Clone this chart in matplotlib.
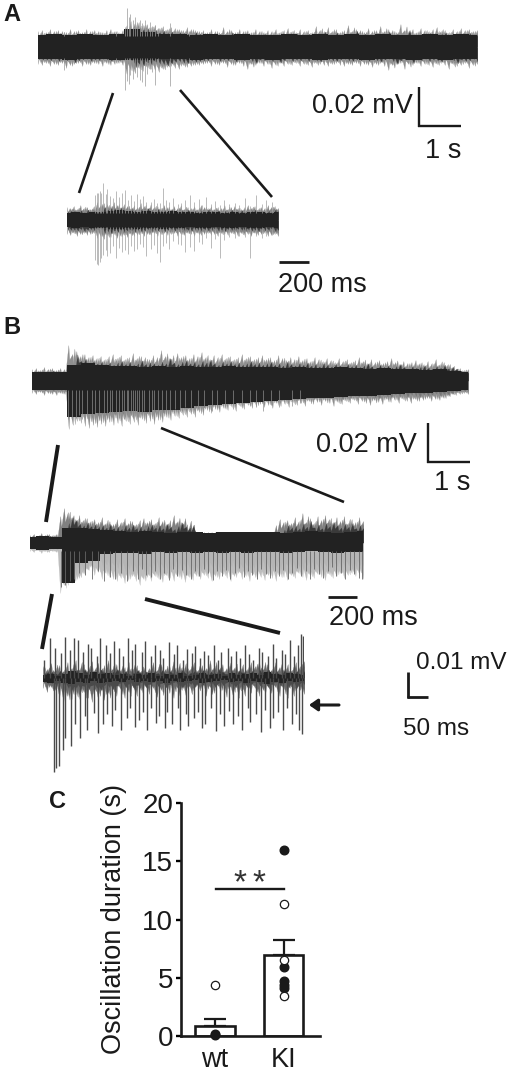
import matplotlib
matplotlib.use("Agg")
import matplotlib.pyplot as plt
from matplotlib.lines import Line2D
from matplotlib.patches import FancyArrowPatch
import numpy as np

W, H = 520, 1072
plt.rcParams["font.family"] = ["Liberation Sans", "DejaVu Sans"]

# trace amplitudes: 1 unit = 0.5 uV. fringe/core are outlines, spikes are single deflections
# --- A top
A1_dur = 10.45
A1_fringe_top = [16,17,15,18,16,17,16,15,18,16,17,15,18,16,17,16,15,17,18,16,15,17,
    22,26,24,25,22,23,20,22,19,21,18,20,19,18,17,20,18,17,
    16,17,15,18,16,15,20,16,17,15,18,16,17,15,18,16,15,17,16,18,15,17,19,16,15,18,16,17,15,21,
    17,16,20,16,18,15,17,22,16,18,17,15,19,16,17,21,16,18,17,15,23,17,16,18,15,19,17,16,18,20,
    16,17,15,18,16,19,17,18,16,17]
A1_fringe_bot = [17,18,16,19,17,18,16,21,18,17,16,19,17,18,16,17,19,16,18,17,16,18,
    27,23,25,21,24,20,22,23,25,22,20,19,21,22,18,20,19,18,
    18,17,16,19,17,18,16,20,17,18,16,19,22,17,18,16,19,17,21,18,16,19,17,18,16,19,17,18,20,16,
    17,18,19,17,16,18,19,17,18,16,19,17,18,20,17,16,19,23,18,17,16,22,17,18,16,19,17,18,20,17,
    16,18,22,17,19,18,16,21,18,17]
A1_core_top = [12,13,12,13,12,13,18,15,13,13,12,13,12,13,12,12,13,12,13,12,13,12,13,12,12,13,12,13,12]
A1_core_bot = [12,12,13,12,12,13,13,13,12,12,13,12,12,13,12,13,12,12,13,12,12,13,12,12,13,12,13,12,12]
A1_spike_t = [2.08,2.12,2.16,2.2,2.25,2.3,2.36,2.42,2.48,2.54,2.6,2.66,2.72,2.78,2.85,3.14,3.6,1.85,0.62]
A1_spike_up = [20,39,30,33,27,30,25,27,24,27,22,25,21,22,19,24,16,15,15]
A1_spike_down = [43,34,37,28,32,26,30,33,35,39,27,22,25,38,20,39,15,15,23]

# --- A zoom
A2_dur = 1.41
A2_fringe_top = [13,12,14,11,15,12,13,11,14,18,15,17,16,14,18,15,13,16,14,12,15,13,17,14,12,16,13,14,12,15,13,11,14,12,
    15,11,13,12,14,11,15,13,12,14,11,13,12,15,11,13,14,12,11,13,15,12,14,11,13,12,15,13,14,12]
A2_fringe_bot = [14,15,13,16,14,13,15,14,13,18,16,19,15,17,14,18,16,15,17,14,16,15,13,16,14,15,13,16,14,13,15,14,13,16,
    14,15,13,14,16,13,15,14,13,15,14,16,13,14,15,13,14,16,13,15,14,16,13,15,14,13,16,15,14,16]
A2_core_top = [7,8,7,8,8,9,10,9,8,9,8,8,9,8,8,7,8,8,7,8,7,8,8,7,8]
A2_core_bot = [7,8,7,8,8,9,9,8,9,8,8,9,8,8,7,8,8,7,8,8,7,8,8,7,8]
A2_spike_t = [.19,.2,.21,.22,.23,.24,.26,.27,.29,.31,.33,.35,.37,.39,.41,.43,.45,.47,.49,.51,.53,.56,.58,.6,.62,.64,.66,.68,
    .71,.74,.76,.79,.82,.85,.88,.9,.93,.96,.99,1.02,1.05,1.08,1.12,1.15,1.19,1.22,1.26,1.3,1.33,1.37]
A2_spike_up = [25,27,27,29,27,37,26,31,24,22,29,23,27,30,20,25,19,26,21,24,18,18,21,17,17,32,20,18,22,16,17,20,25,18,21,
    15,23,16,19,15,20,16,17,15,22,14,25,16,20,18]
A2_spike_down = [40,44,45,42,38,35,30,36,33,26,38,28,32,30,34,26,31,29,24,27,36,29,25,33,42,26,23,29,21,24,25,32,27,31,
    22,24,18,28,19,38,20,17,18,16,17,38,16,18,16,15]

# --- B top
B1_dur = 10.4
B1_fringe_top = [12,13,11,14,12,13,11,13,12,36,27,30,25,27,24,26,23,25,22,25,27,23,26,22,24,28,23,25,24,22,26,24,31,25,
    23,26,28,24,26,23,27,25,29,24,22,26,24,27,23,25,22,24,27,23,25,22,24,26,22,24,21,26,23,21,24,22,25,21,23,
    20,24,22,20,23,21,19,23,20,22,19,21,24,20,18,22,19,21,18,20,23,19,17,20,18,19,21,18,17,20,18,22,17,19,17,14,12,13,11,12]
B1_fringe_bot = [12,13,11,14,12,13,14,12,13,48,44,40,42,45,47,44,46,43,45,41,44,42,45,40,43,41,44,38,42,40,43,39,41,
    36,39,35,37,34,36,33,36,31,34,29,32,28,31,27,29,26,30,25,28,24,27,25,23,26,24,27,22,25,23,26,21,24,22,25,
    20,23,21,24,20,22,25,21,23,20,22,19,23,20,22,24,19,21,23,18,21,19,22,18,20,22,18,20,19,17,20,18,19,17,15,13,14,13,12,13]
B1_core_top = [9,9,9,16,18,16,15,15,14,15,14,15,14,14,15,14,14,14,13,14,13,13,14,13,12,13,12,12,11,12,10,9]
B1_core_bot = [9,9,9,36,33,32,31,30,31,29,29,27,25,24,23,22,21,20,19,18,17,17,16,15,15,14,13,12,12,11,10,9]
B1_spike_t = [.86,.95,1.04,1.12,1.2,1.3,1.42,1.5,1.6,1.72,1.8,1.86,1.92,2,2.08,2.14,2.2,2.26,2.3,2.36,2.4,2.45,2.5,2.56,
    2.62,2.68,2.8,2.86,2.92,3,3.1,3.2,3.3,3.4,3.52,3.65,3.8,3.95,4.1,4.3,4.42,4.6,4.8,5,5.2,5.35,5.5,5.7,5.9,6.2,6.4]
B1_spike_down = [38,36,37,34,38,35,36,33,38,35,37,34,36,33,37,35,38,33,36,34,37,35,33,36,34,30,32,35,30,33,30,
    31,32,28,30,26,31,28,26,30,27,26,28,25,24,26,30,24,26,25,22]

# --- B zoom
B2_dur = 2.26
B2_fringe_top = [8,9,7,10,8,9,8,9,27,35,31,26,24,28,23,25,22,24,21,26,20,22,19,24,21,25,20,22,19,23,25,21,24,20,26,22,19,
    23,28,22,21,25,11,11,11,11,11,11,11,11,11,11,11,11,11,11,11,11,11,11,11,11,11,11,11,18,24,21,23,20,26,22,30,21,25,20,27,
    23,28,24,21,26,22,27,20,24,21,26,22]
B2_fringe_bot = [8,9,7,10,8,9,8,9,50,42,42,40,38,35,30,26,24,32,29,36,30,34,36,38,35,40,37,33,38,42,36,34,38,33,36,39,32,
    35,38,33,36,39,34,37,33,36,32,35,38,33,36,31,35,38,33,30,36,33,38,31,36,34,37,32,35,38,31,34,37,32,35,30,34,37,32,35,31,
    34,37,31,35,33,30,35,32,30,33,31,36]
B2_core_top = [6,7,6,15,15,14,13,12,11,12,11,10,11,11,10,11,11,11,11,11,10,11,12,11,10,11,12]
B2_core_bot = [6,7,6,40,20,18,11,10,10,11,9,10,9,10,9,10,9,10,9,9,10,9,8,9,10,9,9]
B2_spike_t = [.21,.24,.27,.3,.33,.37,.42,.46,.5,.54,.58,.62,.66,.7,.73,.76,.79,.82,.85,.88,.91,.94,.97,1,1.03,1.06,1.09,1.12,
    1.15,1.18,1.21,1.24,1.27,1.3,1.33,1.36,1.39,1.42,1.45,1.48,1.51,1.54,1.57,1.6,1.63,1.66,1.69,1.72,1.75,1.78,1.81,1.84,
    1.87,1.9,1.93,1.96,1.99,2.02,2.05,2.08,2.11,2.14,2.17,2.2,2.23,2.25]
B2_spike_down = [44,42,38,36,30,32,36,28,38,34,36,30,38,28,36,26,32,34,28,36,30,37,26,33,27,32,36,28,33,26,30,37,28,33,27,
    36,30,25,34,28,32,36,26,31,35,28,33,27,36,30,25,33,28,36,26,31,35,28,24,33,30,36,27,31,35,36]

# --- B second zoom
B3_dur = 0.65
B3_fringe_top = [12,9,15,8,13,7,16,10,18,9,14,8,17,11,7,13,18,9,14,8,11,16,9,13,7,12,10,16,8,14,9,12,17,8,11,15,9,16,8,13,
    10,18,12,8,14,10,16,11,8,14,9,16,12,18,9,14,8,16,11,9,14,8,16,12,17]
B3_fringe_bot = [10,14,9,12,20,24,18,21,16,22,14,20,24,13,18,22,15,9,18,11,20,14,8,18,12,8,16,10,19,12,8,15,20,10,12,18,9,14,
    8,12,18,9,15,8,12,19,9,14,20,11,8,15,10,18,12,8,15,9,18,11,20,9,14,12,16]
B3_core_top = [3,4,2,4,7,5,3,6,4,5,3,4,2,4,3,5,2,4,3,5,2,3,5,3,4,2,5,3,4,5,3,6,4,3,5,4,3]
B3_core_bot = [4,5,3,5,6,4,5,3,5,4,3,4,2,4,3,4,3,5,3,4,3,2,5,4,3,2,4,3,5,3,4,6,4,5,3,4,3]
B3_up_t = [.002,.018,.03,.046,.054,.066,.076,.088,.1,.112,.12,.134,.142,.158,.168,.176,.19,.198,.212,.222,.23,.246,.254,.27,
    .278,.292,.3,.314,.326,.334,.348,.358,.37,.378,.392,.402,.41,.426,.436,.444,.46,.468,.48,.49,.504,.514,.522,.538,.546,
    .56,.572,.58,.594,.602,.614,.626,.634,.642,.648]
B3_spike_up = [18,40,30,25,41,28,40,38,26,34,30,22,40,33,25,37,30,22,40,28,34,26,37,22,33,28,20,36,24,33,18,29,25,32,
    20,27,23,33,18,26,30,22,27,20,33,24,18,30,26,22,34,20,28,24,38,22,33,44,42]
B3_down_t = [.028,.032,.04,.05,.056,.07,.08,.092,.104,.11,.126,.136,.15,.16,.172,.18,.194,.208,.216,.228,.238,.25,.26,.268,
    .282,.29,.304,.31,.322,.336,.342,.356,.362,.376,.386,.396,.404,.418,.43,.44,.45,.462,.474,.486,.496,.51,.516,.53,.542,
    .552,.566,.574,.586,.598,.608,.62,.63,.638,.645]
B3_spike_down = [94,90,88,72,60,68,46,60,38,52,35,55,46,36,48,32,52,40,30,49,42,34,52,30,45,38,50,34,46,30,52,36,48,40,
    34,50,46,30,53,36,48,33,46,38,52,30,44,36,54,32,50,40,34,52,30,46,36,52,56]

# --- C
groups = ["wt", "KI"]
means = [0.85, 6.95]
sems = [0.6, 1.25]
wt_open = [4.35]
wt_filled = [0.1, 0.2]
ki_open = [11.3, 6.55, 3.4]
ki_filled = [16.0, 5.9, 4.7, 4.4, 4.1]
duration_ticks = [0, 5, 10, 15, 20]

fig = plt.figure(figsize=(W / 100, H / 100), dpi=100)


def px(x, y):
    return x / W, 1 - y / H


def txt(x, y, s, size=19.5, **kw):
    fx, fy = px(x, y)
    fig.text(fx, fy, s, fontsize=size, color="#1a1a1a", va="baseline", **kw)


def seg(x0, y0, x1, y1, lw=1.7):
    a, b = px(x0, y0), px(x1, y1)
    fig.add_artist(Line2D([a[0], b[0]], [a[1], b[1]], color="#1a1a1a", lw=lw, solid_capstyle="butt"))


def lag(vals, n):
    # same values n samples later, without wrapping the end round to the start
    return [vals[0]] * n + list(vals[:-n])


def teeth(ax, t, vals, sign, color, shift=0.0, scale=1.0, valley=0.6):
    # saw-tooth outline so the noise edge looks like a sampled trace
    vals = np.asarray(vals, float) * scale
    step = t[1] - t[0]
    x = np.empty(2 * len(t))
    y = np.empty(2 * len(t))
    x[0::2] = t + step * shift
    x[1::2] = t + step * (shift + 0.25)
    y[0::2] = vals
    y[1::2] = vals * valley
    ax.fill_between(x, 0, sign * y, color=color, lw=0.15)


def trace(left, right, mid, dur, ftop, fbot, ctop, cbot, spikes_up=None, spikes_down=None,
          fcol="#777777", fcol2=None, dark2="#3a3a3a", scol="#8a8a8a", inner=8, slw=0.5,
          valley=0.6, valley2=0.6, dscale=0.74):
    ax = fig.add_axes([left / W, 1 - (mid + 110) / H, (right - left) / W, 220 / H])
    ax.set_xlim(0, dur)
    ax.set_ylim(-110, 110)
    ax.axis("off")
    ft = np.linspace(0, dur, len(ftop))
    fb = np.linspace(0, dur, len(fbot))
    teeth(ax, ft, ftop, 1, fcol, valley=valley)
    teeth(ax, ft, lag(ftop, 1), 1, fcol, shift=0.5, scale=0.9, valley=valley)
    teeth(ax, fb, fbot, -1, fcol2 or fcol, valley=valley2)
    teeth(ax, fb, lag(fbot, 1), -1, fcol2 or fcol, shift=0.5, scale=0.9, valley=valley2)
    teeth(ax, ft, lag(ftop, 2), 1, "#3a3a3a", shift=0.25, scale=dscale, valley=0.7)
    teeth(ax, fb, lag(fbot, 2), -1, dark2, shift=0.25, scale=dscale, valley=0.7)
    ax.fill_between(np.linspace(0, dur, len(ctop)), -1, ctop, color="#222222", lw=0, step="mid")
    ax.fill_between(np.linspace(0, dur, len(cbot)), 1, -np.array(cbot), color="#222222", lw=0, step="mid")
    if spikes_up is not None:
        ax.vlines(spikes_up[0], inner, spikes_up[1], color=scol, lw=slw)
    if spikes_down is not None:
        ax.vlines(spikes_down[0], -np.array(spikes_down[1]), -inner, color=scol, lw=slw)
    return ax


trace(38, 477, 47, A1_dur, A1_fringe_top, A1_fringe_bot, A1_core_top, A1_core_bot,
      (A1_spike_t, A1_spike_up), (A1_spike_t, A1_spike_down), fcol="#8f8f8f", scol="#999999", inner=11)
trace(67, 278, 220, A2_dur, A2_fringe_top, A2_fringe_bot, A2_core_top, A2_core_bot,
      (A2_spike_t, A2_spike_up), (A2_spike_t, A2_spike_down), fcol="#858585", scol="#a0a0a0", inner=7, dscale=0.7)
trace(32, 468, 381, B1_dur, B1_fringe_top, B1_fringe_bot, B1_core_top, B1_core_bot,
      None, (B1_spike_t, B1_spike_down), fcol="#8f8f8f", dark2="#777777", scol="#8c8c8c", inner=9)
trace(30, 363, 543, B2_dur, B2_fringe_top, B2_fringe_bot, B2_core_top, B2_core_bot,
      None, (B2_spike_t, B2_spike_down), fcol="#808080", fcol2="#bdbdbd", dark2="#b5b5b5", scol="#666666",
      inner=8, slw=0.6, valley2=0.75)
trace(43, 304, 678, B3_dur, B3_fringe_top, B3_fringe_bot, B3_core_top, B3_core_bot,
      (B3_up_t, B3_spike_up), (B3_down_t, B3_spike_down), fcol="#6a6a6a", dark2="#4a4a4a", scol="#4a4a4a",
      inner=0, slw=1.0, valley=0.3, valley2=0.3, dscale=0.5)

# panel letters
txt(3, 21, "A", size=17, fontweight="bold")
txt(3, 334, "B", size=17, fontweight="bold")
txt(49, 808, "C", size=17, fontweight="bold")

# zoom guide lines
seg(113, 93, 79, 193, 1.9)
seg(180, 90, 272, 197, 1.9)
seg(161, 428, 344, 502, 1.9)
seg(58, 445, 46, 522, 2.8)
seg(145, 599, 280, 633, 2.8)
seg(52, 594, 42, 649, 2.8)

# scale bars
seg(419, 87, 419, 127)
seg(418, 126, 461, 126)
txt(312, 113, "0.02 mV")
txt(425, 158, "1 s")
seg(279, 262, 309, 262, 2)
txt(278, 292, "200 ms")
seg(428, 423, 428, 463)
seg(427, 462, 470, 462)
txt(316, 452, "0.02 mV")
txt(434, 490, "1 s")
seg(328, 597, 357, 597, 2)
txt(329, 625, "200 ms")
seg(408, 672, 408, 698, 2)
seg(407, 697, 428, 697, 2)
txt(416, 669, "0.01 mV", size=17.5)
txt(403, 735, "50 ms", size=17.5)

# arrow next to the last trace
fig.add_artist(FancyArrowPatch(px(339, 705), px(309, 705), transform=fig.transFigure,
               arrowstyle="-|>,head_length=5,head_width=3.5", lw=2.2, color="#1a1a1a",
               shrinkA=0, shrinkB=0))

# panel C
ax = fig.add_axes([181 / W, 1 - 1036 / H, (320 - 181) / W, (1036 - 803) / H])
pos = [0, 1]
ax.bar(pos, means, width=0.57, color="white", edgecolor="#1a1a1a", lw=1.9, zorder=2)
ax.errorbar(pos, means, yerr=[[0, 0], sems], fmt="none", ecolor="#1a1a1a", elinewidth=1.6, capsize=8, capthick=1.6, zorder=1)
ax.plot([0] * len(wt_filled), wt_filled, "o", color="#1a1a1a", ms=6.2, clip_on=False, zorder=4)
ax.plot([1] * len(ki_filled), ki_filled, "o", color="#1a1a1a", ms=6.2, zorder=4)
ax.plot([0] * len(wt_open), wt_open, "o", mfc="white", mec="#1a1a1a", mew=0.9, ms=6.0, zorder=4)
ax.plot([1] * len(ki_open), ki_open, "o", mfc="white", mec="#1a1a1a", mew=0.9, ms=6.0, zorder=4)
ax.plot([0.01, 1], [12.65, 12.65], color="#1a1a1a", lw=1.7)
ax.text(0.365, 13.05, "*", ha="center", va="center", fontsize=24, color="#333333")
ax.text(0.64, 13.05, "*", ha="center", va="center", fontsize=24, color="#333333")
ax.set_xlim((181 - 215) / 68.5, (320 - 215) / 68.5)
ax.set_ylim(0, 20)
ax.set_xticks(pos, groups)
ax.set_yticks(duration_ticks)
ax.tick_params(axis="x", length=0, labelsize=19.5, pad=8, labelcolor="#1a1a1a")
ax.tick_params(axis="y", length=3.5, width=1.7, labelsize=20, pad=2, labelcolor="#1a1a1a")
for s in ["top", "right"]:
    ax.spines[s].set_visible(False)
for s in ["left", "bottom"]:
    ax.spines[s].set_linewidth(1.9)
    ax.spines[s].set_color("#1a1a1a")
fx, fy = px(114, 919)
fig.text(fx, fy, "Oscillation duration (s)", rotation=90, ha="center", va="center", fontsize=19.5, color="#1a1a1a")

fig.savefig("out.png", dpi=100)
